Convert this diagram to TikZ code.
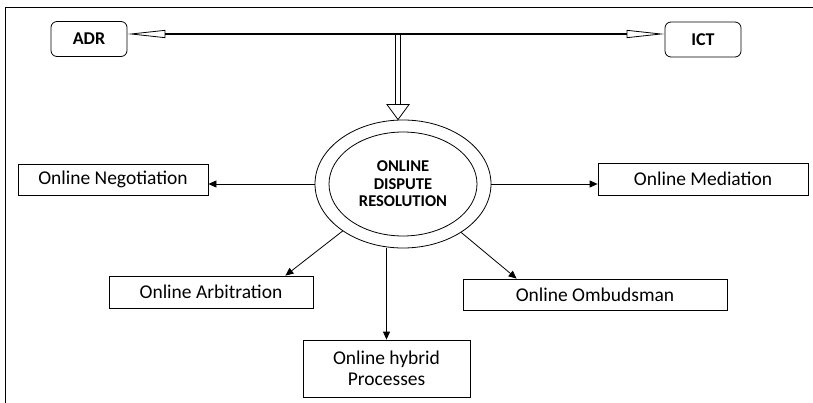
\documentclass[tikz,border=0pt]{standalone}
\usepackage{fontspec}
\setmainfont{Carlito}
\usetikzlibrary{arrows.meta, shapes.geometric}

\begin{document}
\begin{tikzpicture}[x=1pt, y=-1pt,
	box/.style={draw, line width=0.8pt, inner sep=0pt, align=center,
		font=\fontsize{19.5}{21}\selectfont},
	tag/.style={draw, line width=0.8pt, rounded corners=6pt, inner sep=0pt,
		minimum width=76pt, minimum height=35pt, font=\bfseries\fontsize{18}{20}\selectfont},
	link/.style={line width=0.8pt, -{Triangle[length=8pt, width=7pt]}}]
	\useasboundingbox (0,0) rectangle (813,403);
	\draw [line width=0.8pt] (5,403) -- (5,7) -- (813,7);

	\node (adr) [tag] at (89,39) {ADR};
	\node (ict) [tag] at (703,39.5) {ICT};
	\coordinate (jn) at (398,34);

	\node (odr) [draw, ellipse, line width=0.8pt, minimum width=176pt,
		minimum height=128pt, inner sep=0pt] at (403,184) {};
	\node (core) [draw, ellipse, line width=0.8pt, minimum width=148pt,
		minimum height=104pt, inner sep=0pt, align=center,
		font=\bfseries\fontsize{16.5}{17.5}\selectfont] at (odr) {ONLINE\\DISPUTE\\RESOLUTION};
	\coordinate (tip) at (jn |- odr.north);
	\coordinate (head) at ([yshift=15pt]tip);

	\node (neg) [box, minimum width=190pt, minimum height=31pt] at (113,179.5) {Online Negotiation};
	\node (med) [box, minimum width=210pt, minimum height=32pt] at (703,179) {Online Mediation};
	\node (arb) [box, minimum width=204pt, minimum height=32pt] at (211,292) {Online Arbitration};
	\node (omb) [box, minimum width=264pt, minimum height=31pt] at (595,294.5) {Online Ombudsman};
	\node (hyb) [box, minimum width=167pt, minimum height=57pt] at (386.5,368.5) {Online hybrid\\Processes};

	\draw [line width=1.6pt, -{Triangle[open, length=38pt, width=8pt, line width=0.8pt]}]
		(jn) -- (adr.east |- jn);
	\draw [line width=1.6pt, -{Triangle[open, length=38pt, width=8pt, line width=0.8pt]}]
		(jn) -- (ict.west |- jn);
	% double shaft, then the open head
	\draw [line width=0.8pt] ([xshift=-2.2pt]jn) -- ([xshift=-2.2pt]head);
	\draw [line width=0.8pt] ([xshift=2.2pt]jn) -- ([xshift=2.2pt]head);
	\draw [line width=0.8pt, fill=white] ([xshift=-11pt]head) -- ([xshift=11pt]head) -- (tip) -- cycle;

	\draw [link] (odr.west) -- (odr.west -| neg.east);
	\draw [link] (odr.east) -- (odr.east -| med.west);
	\draw [link] (odr) -- ([xshift=-28pt]arb.north east);
	\draw [link] (odr) -- ([xshift=54pt]omb.north west);
	\draw [link] (hyb.north |- odr.south) -- (hyb.north);
\end{tikzpicture}
\end{document}
